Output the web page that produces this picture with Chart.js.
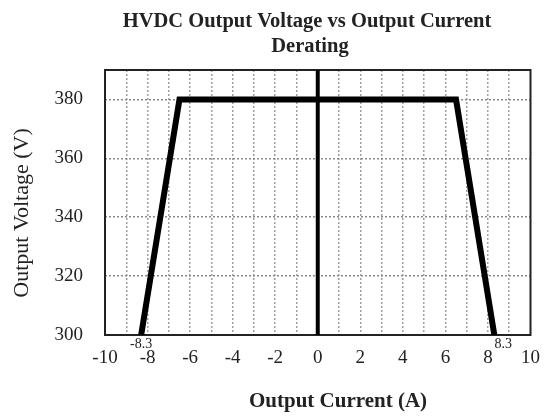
<!DOCTYPE html>
<html>
<head>
<meta charset="utf-8">
<script src="https://cdn.jsdelivr.net/npm/chart.js@4/dist/chart.umd.min.js"></script>
<style>
html,body{margin:0;padding:0;background:#fff;}
#wrap{width:552px;height:419px;position:relative;}
</style>
</head>
<body>
<div id="wrap"><canvas id="c" width="552" height="419"></canvas></div>
<script>
// Data
const currentA = [-8.3, -6.5, 6.5, 8.3];
const voltageV = [300, 380, 380, 300];
const endLabels = ['-8.3', '', '', '8.3'];
const axisCurrent = [0, 0];
const axisVoltage = [300, 390];
const xTickLabels = ['-10','-8','-6','-4','-2','0','2','4','6','8','10'];
const yTickLabels = ['300','320','340','360','380'];
const titleLines = ['HVDC Output Voltage vs Output Current', 'Derating'];
const xTitle = 'Output Current (A)';
const yTitle = 'Output Voltage (V)';

const SERIF = '"Liberation Serif", "DejaVu Serif", serif';

const framePlugin = {
  id: 'frame',
  beforeDatasetsDraw(chart) {
    const {left, top, right, bottom} = chart.chartArea;
    const ctx = chart.ctx;
    ctx.save();
    ctx.strokeStyle = '#222';
    ctx.lineWidth = 2;
    ctx.setLineDash([]);
    ctx.strokeRect(left, top, right - left, bottom - top);
    ctx.restore();
  }
};

const textPlugin = {
  id: 'texts',
  afterDraw(chart) {
    const ctx = chart.ctx;
    const xs = chart.scales.x, ys = chart.scales.y;
    ctx.save();
    ctx.fillStyle = '#222';
    ctx.textAlign = 'center';
    ctx.textBaseline = 'middle';
    ctx.font = 'bold 20.5px ' + SERIF;
    ctx.fillText(titleLines[0], 307, 22);
    ctx.fillText(titleLines[1], 310, 47);
    ctx.font = 'bold 21px ' + SERIF;
    ctx.fillText(xTitle, 338, 402);
    ctx.save();
    ctx.translate(22, 213);
    ctx.rotate(-Math.PI/2);
    ctx.font = '22px ' + SERIF;
    ctx.fillText(yTitle, 0, 0);
    ctx.restore();
    // data labels at end points
    ctx.font = '14px ' + SERIF;
    currentA.forEach((v, i) => {
      if (!endLabels[i]) return;
      const px = xs.getPixelForValue(v);
      const py = ys.getPixelForValue(voltageV[i]);
      ctx.fillText(endLabels[i], px + (v < 0 ? 0 : 9), py + 9);
    });
    ctx.restore();
  }
};

const edgeX = v => v === -10 || v === 10;
const edgeY = v => v === 300 || v === 390;

new Chart(document.getElementById('c'), {
  type: 'scatter',
  data: {
    datasets: [
      {
        data: currentA.map((x, i) => ({x, y: voltageV[i]})),
        showLine: true,
        borderColor: '#000',
        borderWidth: 6,
        pointRadius: 0,
        borderJoinStyle: 'miter',
        tension: 0
      },
      {
        data: axisCurrent.map((x, i) => ({x, y: axisVoltage[i]})),
        showLine: true,
        borderColor: '#000',
        borderWidth: 4,
        pointRadius: 0
      }
    ]
  },
  options: {
    responsive: false,
    animation: false,
    layout: { padding: { top: 70, right: 21, left: 0, bottom: 0 } },
    plugins: { legend: { display: false }, tooltip: { enabled: false }, title: { display: false } },
    scales: {
      x: {
        type: 'linear', min: -10, max: 10,
        afterFit(s) { s.height = 84; },
        ticks: {
          stepSize: 1, autoSkip: false, maxRotation: 0, padding: 12,
          color: '#222', font: { family: SERIF, size: 19 },
          callback(v) { return Number.isInteger(v) && v % 2 === 0 ? xTickLabels[(v + 10) / 2] : ''; }
        },
        grid: {
          color: ctx => (ctx.tick && edgeX(ctx.tick.value)) ? 'rgba(0,0,0,0)' : '#a0a0a0',
          lineWidth: 1.5,
          drawTicks: false
        },
        border: { display: false, dash: [2, 2] }
      },
      y: {
        type: 'linear', min: 300, max: 390,
        afterFit(s) { s.width = 105; },
        afterBuildTicks(s) {
          s.ticks = yTickLabels.map(t => ({value: Number(t)})).concat([{value: 390}]);
        },
        ticks: {
          autoSkip: false, padding: 22,
          color: '#222', font: { family: SERIF, size: 19 },
          callback(v) { return yTickLabels.includes(String(v)) ? String(v) : ''; }
        },
        grid: {
          color: ctx => (ctx.tick && edgeY(ctx.tick.value)) ? 'rgba(0,0,0,0)' : '#8a8a8a',
          lineWidth: 1.5,
          drawTicks: false
        },
        border: { display: false, dash: [2, 2] }
      }
    }
  },
  plugins: [framePlugin, textPlugin]
});
</script>
</body>
</html>
